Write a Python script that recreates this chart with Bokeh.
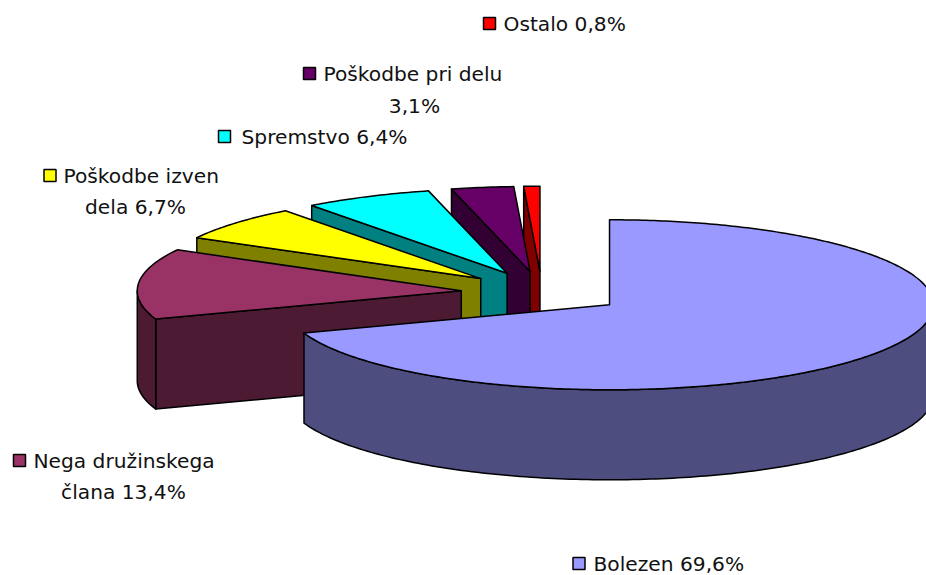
import numpy as np
from bokeh.plotting import figure
from bokeh.models import ColumnDataSource, Range1d
from bokeh.core.properties import value
from bokeh.embed import file_html
from bokeh.resources import INLINE

categories = ["Bolezen", "Nega družinskega člana", "Poškodbe izven dela", "Spremstvo", "Poškodbe pri delu", "Ostalo"]
shares = [69.6, 13.4, 6.7, 6.4, 3.1, 0.8]
top_colors = ["#9999FF", "#993366", "#FFFF00", "#00FFFF", "#660066", "#FF0000"]
side_colors = ["#4D4D80", "#4D1A33", "#808000", "#008080", "#330033", "#800000"]
label_lines = [["Bolezen 69,6%"], ["Nega družinskega", "člana 13,4%"], ["Poškodbe izven", "dela 6,7%"],
               ["Spremstvo 6,4%"], ["Poškodbe pri delu", "3,1%"], ["Ostalo 0,8%"]]

# geometry in window pixels
CX, CY, RX, RY, DEPTH, EXPLODE = 541.5, 292.0, 324.0, 85.0, 90.0, 0.25
LARGEST_SLICE_DX = 1.4
FONT, FSIZE = "DejaVu Sans", "20.2px"
SWATCH = [(578.5, 563), (19, 460), (49.5, 175), (224, 136), (309, 73), (489, 23)]
TEXT_X = [593, 33, 63, 241, 323, 503]
SECOND = [None, (123, 491), (135, 206), None, (414, 105), None]

def pt(a, o, r=1.0):
    return o[0] + r * RX * np.sin(a), o[1] - r * RY * np.cos(a)

edges = np.cumsum([0.0] + shares) / sum(shares) * 2 * np.pi
xs, ys, fills = [], [], []

def add(px, py, c):
    xs.append(list(px)); ys.append(list(py)); fills.append(c)

for i in range(len(shares) - 1, -1, -1):
    a0, a1 = edges[i], edges[i + 1]
    mid = (a0 + a1) / 2
    ax, ay = pt(mid, (CX, CY), EXPLODE)
    if i == 0:
        ax += LARGEST_SLICE_DX
    o = (ax, ay)
    # radial wall on the start edge (left half only faces the viewer)
    if a0 > np.pi:
        sx, sy = pt(a0, o)
        add([ax, sx, sx, ax], [ay, sy, sy + DEPTH, ay + DEPTH], side_colors[i])
    # outer wall: visible between 90 and 270 degrees clockwise from the top
    lo, hi = max(a0, np.pi / 2), min(a1, 1.5 * np.pi)
    if lo < hi:
        t = np.linspace(lo, hi, 160)
        wx, wy = pt(t, o)
        add(np.r_[wx, wx[::-1]], np.r_[wy, wy[::-1] + DEPTH], side_colors[i])
    t = np.linspace(a0, a1, max(8, int((a1 - a0) * 80)))
    tx, ty = pt(t, o)
    add(np.r_[ax, tx], np.r_[ay, ty], top_colors[i])

p = figure(width=926, height=575, x_range=Range1d(0, 926), y_range=Range1d(575, 0),
           output_backend="svg", toolbar_location=None, x_axis_location=None, y_axis_location=None,
           min_border=0, outline_line_color=None, background_fill_color="white")
p.grid.visible = False
p.patches("xs", "ys", fill_color="fills", line_color="black", line_width=1.5, line_join="round",
          source=ColumnDataSource(dict(xs=xs, ys=ys, fills=fills)))
p.scatter([s[0] for s in SWATCH], [s[1] for s in SWATCH], marker="square", size=12,
          fill_color=top_colors, line_color="black", line_width=1.5)
first_y = [s[1] for s in SWATCH]
p.text(TEXT_X, first_y, text=[l[0] for l in label_lines], text_font=value(FONT), text_font_size=value(FSIZE),
       text_color="#111111", text_align="left", text_baseline="middle")
idx = [i for i, s in enumerate(SECOND) if s]
p.text([SECOND[i][0] for i in idx], [SECOND[i][1] for i in idx], text=[label_lines[i][1] for i in idx],
       text_font=value(FONT), text_font_size=value(FSIZE), text_color="#111111", text_align="center", text_baseline="middle")

open("out.html", "w").write(file_html(p, INLINE))
